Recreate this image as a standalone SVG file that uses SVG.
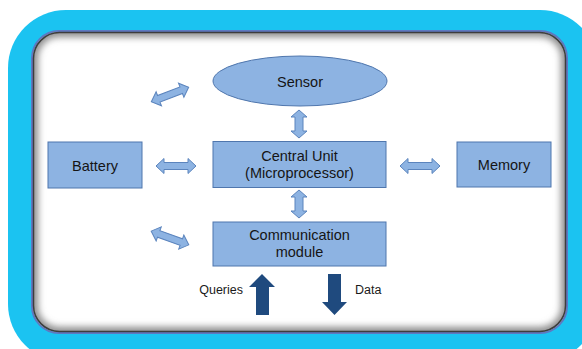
<svg xmlns="http://www.w3.org/2000/svg" width="582" height="349" viewBox="0 0 582 349">
<style>
.box{fill:#8db3e2;stroke:#4f76ad;stroke-width:1}
.lbl{font-family:"Liberation Sans",Arial,sans-serif;font-size:14.5px;fill:#151515;text-anchor:middle}
.sm{font-family:"Liberation Sans",Arial,sans-serif;font-size:12.5px;fill:#1a1a1a}
.dbl{fill:#8db3e2;stroke:#5b84bd;stroke-width:1}
.big{fill:#1f4a7e}
</style>
<defs>
<filter id="blur" x="-5%" y="-5%" width="110%" height="110%"><feGaussianBlur stdDeviation="3.5"/></filter>
<clipPath id="panelClip"><rect x="33" y="32" width="533" height="300" rx="26"/></clipPath>
<path id="h2" d="M-20,0 L-12,-7.5 L-12,-3.5 L12,-3.5 L12,-7.5 L20,0 L12,7.5 L12,3.5 L-12,3.5 L-12,7.5 Z"/>
<path id="v2" d="M0,-14 L8,-7 L4,-7 L4,7 L8,7 L0,14 L-8,7 L-4,7 L-4,-7 L-8,-7 Z"/>
</defs>
<g id="frame">
<rect x="8" y="10" width="590" height="352" rx="58" fill="#1bc3f1"/>
<rect x="32" y="31" width="535" height="302" rx="27" fill="none" stroke="#5f78c0" stroke-width="2"/>
<rect x="33" y="32" width="533" height="300" rx="26" fill="#ffffff"/>
<g clip-path="url(#panelClip)">
<rect x="33" y="32" width="533" height="300" rx="26" fill="none" stroke="#8a8a8a" stroke-width="10" filter="url(#blur)"/>
</g>
<rect x="33.5" y="32.5" width="532" height="299" rx="26" fill="none" stroke="#3d3d3d" stroke-width="1.5"/>
</g>
<g id="sensor">
<ellipse cx="300" cy="81" rx="87" ry="25" class="box"/>
<text x="300" y="87" class="lbl">Sensor</text>
</g>
<g id="central">
<rect x="213" y="141.5" width="173" height="46" class="box"/>
<text x="299.5" y="161" class="lbl">Central Unit</text>
<text x="299.5" y="178" class="lbl">(Microprocessor)</text>
</g>
<g id="battery">
<rect x="48" y="142" width="94" height="46" class="box"/>
<text x="95" y="171" class="lbl">Battery</text>
</g>
<g id="memory">
<rect x="457" y="142" width="94" height="45" class="box"/>
<text x="504" y="170" class="lbl">Memory</text>
</g>
<g id="comm">
<rect x="213" y="222" width="173" height="44" class="box"/>
<text x="299.5" y="240" class="lbl">Communication</text>
<text x="299.5" y="257" class="lbl">module</text>
</g>
<g id="connectors">
<use href="#v2" class="dbl" transform="translate(299,124)"/>
<use href="#v2" class="dbl" transform="translate(299,204)"/>
<use href="#h2" class="dbl" transform="translate(176,166)"/>
<use href="#h2" class="dbl" transform="translate(420,166)"/>
<use href="#h2" class="dbl" transform="translate(170,94.5) rotate(-21)"/>
<use href="#h2" class="dbl" transform="translate(170,238) rotate(20)"/>
<path class="big" d="M262,274 L275,287 L269,287 L269,315 L256,315 L256,287 L249,287 Z"/>
<path class="big" d="M334.5,315 L347,302 L341,302 L341,274 L328,274 L328,302 L322,302 Z"/>
<text x="243" y="294" class="sm" text-anchor="end">Queries</text>
<text x="355" y="294" class="sm">Data</text>
</g>
</svg>
